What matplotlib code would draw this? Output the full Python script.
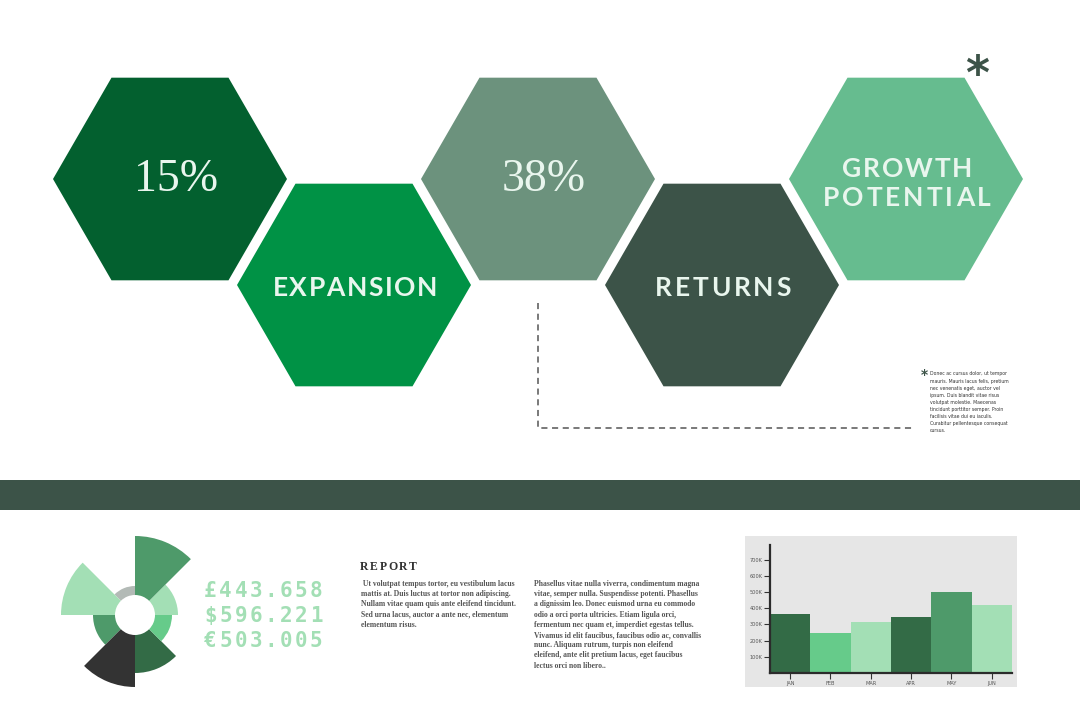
import matplotlib
matplotlib.use('Agg')
import numpy as np
import matplotlib.pyplot as plt
from matplotlib.patches import RegularPolygon, Rectangle
from matplotlib.font_manager import FontProperties

# ---- data ----
hex_labels = ['15%', 'EXPANSION', '38%', 'RETURNS', 'GROWTH\nPOTENTIAL']
hex_colors = ['#03602F', '#009245', '#6C927D', '#3C5348', '#66BC8F']

polar_values = [23, 59, 9, 54, 22, 52, 38, 17]   # 8 slices of 45 deg, from 0 deg ccw
polar_colors = ['#A3DFB5', '#4E9A6A', '#B3BAB6', '#A3DFB5',
                '#4E9A6A', '#333333', '#336B46', '#66CB8A']

currency_lines = ['£443.658', '$596.221', '€503.005']

months = ['JAN', 'FEB', 'MAR', 'APR', 'MAY', 'JUN']
sales = [367, 248, 314, 346, 503, 420]  # thousands
bar_colors = ['#336B46', '#66CB8A', '#A3DFB5', '#336B46', '#4E9A6A', '#A3DFB5']
ytick_vals = [100, 200, 300, 400, 500, 600, 700]

foot_lines = ['Donec ac cursus dolor, ut tempor',
              'mauris. Mauris lacus felis, pretium',
              'nec venenatis eget, auctor vel',
              'ipsum. Duis blandit vitae risus',
              'volutpat molestie. Maecenas',
              'tincidunt porttitor semper. Proin',
              'facilisis vitae dui eu iaculis.',
              'Curabitur pellentesque consequat',
              'cursus.']
para1 = [' Ut volutpat tempus tortor, eu vestibulum lacus',
         'mattis at. Duis luctus at tortor non adipiscing.',
         'Nullam vitae quam quis ante eleifend tincidunt.',
         'Sed urna lacus, auctor a ante nec, elementum',
         'elementum risus.']
para2 = ['Phasellus vitae nulla viverra, condimentum magna',
         'vitae, semper nulla. Suspendisse potenti. Phasellus',
         'a dignissim leo. Donec euismod urna eu commodo',
         'odio a orci porta ultricies. Etiam ligula orci,',
         'fermentum nec quam et, imperdiet egestas tellus.',
         'Vivamus id elit faucibus, faucibus odio ac, convallis',
         'nunc. Aliquam rutrum, turpis non eleifend',
         'eleifend, ante elit pretium lacus, eget faucibus',
         'lectus orci non libero..']

# ---- layout ----
DARK = '#3C5348'
LIGHT = '#E9F6EE'
hex_xy = [(170, 179), (354, 285), (538, 179), (722, 285), (906, 179)]
hex_r = 117
# (baseline y, width) of each caps line, per label
caps_layout = {'EXPANSION': [(296, 165)],
               'RETURNS': [(296, 136)],
               'GROWTH\nPOTENTIAL': [(177, 130), (206, 168)]}

fig = plt.figure(figsize=(10.8, 7.2), dpi=100)
ax = fig.add_axes([0, 0, 1, 1])
ax.set_xlim(0, 1080)
ax.set_ylim(720, 0)
ax.axis('off')
renderer = fig.canvas.get_renderer()


def spaced(x, y, s, fp, width, color, ha='center'):
    """letter-spaced text, stretched to the given width"""
    ws = [renderer.get_text_width_height_descent(c, fp, ismath=False)[0] for c in s]
    gap = (width - sum(ws)) / max(len(s) - 1, 1)
    x0 = x - width / 2 if ha == 'center' else x
    for c, w in zip(s, ws):
        ax.text(x0, y, c, fontproperties=fp, color=color, ha='left', va='baseline')
        x0 += w + gap


caps_fp = FontProperties(family='Lato', weight='bold', size=19)
for (cx, cy), col, lab in zip(hex_xy, hex_colors, hex_labels):
    ax.add_patch(RegularPolygon((cx, cy), 6, radius=hex_r, orientation=np.pi / 6,
                                facecolor=col, edgecolor='none'))
    if '%' in lab:
        ax.text(cx + 6, cy + 1, lab, family='Liberation Serif', fontsize=33,
                color=LIGHT, ha='center', va='center')
    else:
        for line, (by, w) in zip(lab.split('\n'), caps_layout[lab]):
            spaced(cx + 1, by, line, caps_fp, w, LIGHT)

# asterisks + footnote
ax.text(977, 76, '*', family='DejaVu Sans', weight='bold', fontsize=33,
        color=DARK, ha='center', va='center')
ax.text(924, 375, '*', family='DejaVu Sans', weight='bold', fontsize=10,
        color=DARK, ha='center', va='center')
for i, line in enumerate(foot_lines):
    ax.text(930, 374 + i * 7.1, line, family='DejaVu Sans', fontsize=3.3,
            color='#333333', ha='left', va='center')

# dashed connector
ax.plot([538, 538, 912], [303, 428, 428], color='#555555', lw=1.1,
        ls=(0, (4, 3)))

# band
ax.add_patch(Rectangle((0, 480), 1080, 30, facecolor=DARK, edgecolor='none'))

# report text
rep_fp = FontProperties(family='Liberation Serif', weight='bold', size=8.5)
spaced(360, 569.5, 'REPORT', rep_fp, 57, '#333333', ha='left')
for i, line in enumerate(para1):
    ax.text(361, 584 + i * 10.2, line, family='Liberation Serif', weight='bold',
            fontsize=5.5, color='#555555', ha='left', va='center')
for i, line in enumerate(para2):
    ax.text(534, 584 + i * 10.2, line, family='Liberation Serif', weight='bold',
            fontsize=5.5, color='#555555', ha='left', va='center')

# currency figures, fixed pitch
for j, line in enumerate(currency_lines):
    for i, c in enumerate(line):
        ax.text(203 + (i + 0.5) * 15.1, 597 + j * 25, c, family='DejaVu Sans Mono',
                weight='bold', fontsize=15, color='#A3DFB5', ha='center', va='baseline')

# polar bar chart
pax = fig.add_axes([55 / 1080, 25 / 720, 160 / 1080, 160 / 720], projection='polar')
theta = np.deg2rad(np.arange(0, 360, 45))
pax.bar(theta, polar_values, width=np.deg2rad(45), bottom=20, align='edge',
        color=polar_colors, edgecolor='none')
pax.set_ylim(0, 80)
pax.axis('off')

# bar chart panel
ax.add_patch(Rectangle((745, 536), 272, 151, facecolor='#E6E6E6', edgecolor='none'))
bax = fig.add_axes([770 / 1080, (720 - 673) / 720, 242 / 1080, 128 / 720])
bax.bar(range(len(months)), sales, width=1.0, color=bar_colors)
bax.set_xlim(-0.5, 5.5)
bax.set_ylim(0, 790)
bax.set_facecolor('none')
for sp in ['top', 'right']:
    bax.spines[sp].set_visible(False)
for sp in ['left', 'bottom']:
    bax.spines[sp].set_color('#2B2B2B')
    bax.spines[sp].set_linewidth(1.6)
bax.set_yticks(ytick_vals)
bax.set_yticklabels([f'{v}K' for v in ytick_vals])
bax.set_xticks(range(len(months)))
bax.set_xticklabels(months)
bax.tick_params(length=4, width=0.8, color='#333333', labelsize=3.6,
                labelcolor='#555555', pad=1.5)

fig.savefig('out.png', dpi=100, facecolor='white')
